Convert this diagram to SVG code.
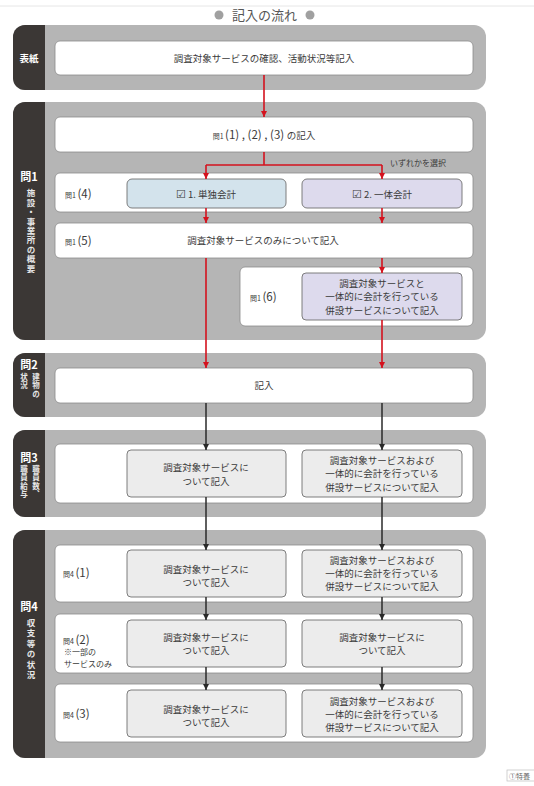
<svg xmlns="http://www.w3.org/2000/svg" width="534" height="786" viewBox="0 0 534 786">
<style>
text{font-family:"Noto Sans CJK JP","Noto Sans",sans-serif;fill:#3a3a3a;}
.band{fill:#b5b5b5;}
.side{fill:#3b3735;}
.wb{fill:#ffffff;stroke:#8c8c8c;stroke-width:0.8;}
.gb{fill:#ececec;stroke:#707070;stroke-width:0.9;}
.blue{fill:#d3e3ec;stroke:#707070;stroke-width:0.9;}
.pur{fill:#dddaed;stroke:#707070;stroke-width:0.9;}
.t{font-size:9.5px;text-anchor:middle;}
.sl{font-size:11px;font-weight:bold;fill:#ffffff;text-anchor:middle;}
.sv{font-size:8.5px;font-weight:bold;fill:#e8e8e8;writing-mode:vertical-rl;text-orientation:upright;}
.sv2{font-size:7.5px;font-weight:bold;fill:#e8e8e8;writing-mode:vertical-rl;text-orientation:upright;letter-spacing:1.1px;}
.sm{font-size:7px;}
.lg{font-size:11.5px;}
.red{stroke:#d4121e;stroke-width:1.6;fill:none;}
.blk{stroke:#2a2a2a;stroke-width:1.5;fill:none;}
</style>
<defs>
<marker id="ar" markerWidth="7" markerHeight="6" refX="6" refY="3" orient="auto" markerUnits="userSpaceOnUse"><path d="M0,0 L6,3 L0,6 Z" fill="#d4121e"/></marker>
<marker id="ab" markerWidth="7" markerHeight="6" refX="6" refY="3" orient="auto" markerUnits="userSpaceOnUse"><path d="M0,0 L6,3 L0,6 Z" fill="#2a2a2a"/></marker>
</defs>
<rect width="534" height="786" fill="#ffffff"/>
<line x1="0" y1="6" x2="534" y2="6" stroke="#e6e6e6" stroke-width="1"/>
<g id="title">
<circle cx="219" cy="15" r="4.5" fill="#a0a0a0"/>
<circle cx="310" cy="15" r="4.5" fill="#a0a0a0"/>
<text x="264.5" y="19.5" style="font-size:13px;text-anchor:middle;fill:#555">記入の流れ</text>
</g>

<g id="band-hyoshi">
<rect class="band" x="13" y="25" width="473" height="65" rx="12"/>
<path class="side" d="M45,25 H25 A12,12 0 0 0 13,37 V78 A12,12 0 0 0 25,90 H45 Z"/>
<text class="sl" x="29" y="61.5" style="font-size:9.5px">表紙</text>
</g>
<g id="band-q1">
<rect class="band" x="13" y="102" width="473" height="238" rx="12"/>
<path class="side" d="M45,102 H25 A12,12 0 0 0 13,114 V328 A12,12 0 0 0 25,340 H45 Z"/>
<text class="sl" x="29" y="181">問1</text>
<text class="sv" x="31" y="189" style="letter-spacing:0.9px">施設・事業所の概要</text>
</g>
<g id="band-q2">
<rect class="band" x="13" y="353" width="473" height="64" rx="12"/>
<path class="side" d="M45,353 H25 A12,12 0 0 0 13,365 V405 A12,12 0 0 0 25,417 H45 Z"/>
<text class="sl" x="29" y="369">問2</text>
<text class="sv2" x="36" y="373">建物の</text>
<text class="sv2" x="24" y="373">状況</text>
</g>
<g id="band-q3">
<rect class="band" x="13" y="430" width="473" height="87" rx="12"/>
<path class="side" d="M45,430 H25 A12,12 0 0 0 13,442 V505 A12,12 0 0 0 25,517 H45 Z"/>
<text class="sl" x="29" y="462">問3</text>
<text class="sv2" x="36" y="465">職員数、</text>
<text class="sv2" x="24" y="465">職員給与</text>
</g>
<g id="band-q4">
<rect class="band" x="13" y="530" width="473" height="228" rx="12"/>
<path class="side" d="M45,530 H25 A12,12 0 0 0 13,542 V746 A12,12 0 0 0 25,758 H45 Z"/>
<text class="sl" x="29" y="611">問4</text>
<text class="sv" x="31" y="618.5" style="letter-spacing:1.9px">収支等の状況</text>
</g>

<g id="node-cover">
<rect class="wb" x="55" y="41" width="418" height="34" rx="5"/>
<text class="t" x="264" y="61.5">調査対象サービスの確認、活動状況等記入</text>
</g>
<g id="node-q1-123">
<rect class="wb" x="55" y="117" width="418" height="35" rx="5"/>
<text x="264" y="139" style="text-anchor:middle"><tspan class="sm">問1 </tspan><tspan class="lg">(1) , (2) , (3) </tspan><tspan style="font-size:9.5px">の記入</tspan></text>
</g>
<text x="446" y="166" style="font-size:8px;text-anchor:end">いずれかを選択</text>
<g id="node-q1-4">
<rect class="wb" x="55" y="173" width="418" height="39" rx="5"/>
<text x="65" y="197.5"><tspan class="sm">問1 </tspan><tspan class="lg">(4)</tspan></text>
</g>
<g id="node-single">
<rect class="blue" x="127" y="179" width="159" height="29" rx="5"/>
<text class="t" x="206" y="197.5"><tspan style="font-size:11px">☑</tspan> 1. 単独会計</text>
</g>
<g id="node-combined">
<rect class="pur" x="302" y="179" width="160" height="29" rx="5"/>
<text class="t" x="382" y="197.5"><tspan style="font-size:11px">☑</tspan> 2. 一体会計</text>
</g>
<g id="node-q1-5">
<rect class="wb" x="55" y="223" width="418" height="35" rx="5"/>
<text x="65" y="244.5"><tspan class="sm">問1 </tspan><tspan class="lg">(5)</tspan></text>
<text class="t" x="263" y="244">調査対象サービスのみについて記入</text>
</g>
<g id="node-q1-6">
<rect class="wb" x="240" y="267" width="233" height="59" rx="5"/>
<text x="250" y="301"><tspan class="sm">問1 </tspan><tspan class="lg">(6)</tspan></text>
<rect class="pur" x="302" y="273" width="160" height="47" rx="4"/>
<text class="t" x="382" y="286.5">調査対象サービスと</text>
<text class="t" x="382" y="300">一体的に会計を行っている</text>
<text class="t" x="382" y="313.5">併設サービスについて記入</text>
</g>
<g id="node-q2">
<rect class="wb" x="55" y="368" width="418" height="35" rx="5"/>
<text class="t" x="264" y="389">記入</text>
</g>
<g id="node-q3">
<rect class="wb" x="55" y="444" width="418" height="59" rx="5"/>
<rect class="gb" x="127" y="450" width="159" height="47" rx="4"/>
<text class="t" x="206" y="471">調査対象サービスに</text>
<text class="t" x="206" y="485">ついて記入</text>
<rect class="gb" x="302" y="450" width="160" height="47" rx="4"/>
<text class="t" x="382" y="463.5">調査対象サービスおよび</text>
<text class="t" x="382" y="477">一体的に会計を行っている</text>
<text class="t" x="382" y="490.5">併設サービスについて記入</text>
</g>
<g id="node-q4-1">
<rect class="wb" x="55" y="545" width="418" height="57" rx="5"/>
<text x="63" y="577"><tspan class="sm">問4 </tspan><tspan class="lg">(1)</tspan></text>
<rect class="gb" x="127" y="550" width="159" height="47" rx="4"/>
<text class="t" x="206" y="573">調査対象サービスに</text>
<text class="t" x="206" y="586">ついて記入</text>
<rect class="gb" x="302" y="550" width="160" height="47" rx="4"/>
<text class="t" x="382" y="564">調査対象サービスおよび</text>
<text class="t" x="382" y="577">一体的に会計を行っている</text>
<text class="t" x="382" y="590">併設サービスについて記入</text>
</g>
<g id="node-q4-2">
<rect class="wb" x="55" y="614" width="418" height="59" rx="5"/>
<text x="63" y="643.5"><tspan class="sm">問4 </tspan><tspan class="lg">(2)</tspan></text>
<text x="64" y="655" style="font-size:8px">※一部の</text>
<text x="64" y="667" style="font-size:8px">サービスのみ</text>
<rect class="gb" x="127" y="620" width="159" height="47" rx="4"/>
<text class="t" x="206" y="640.5">調査対象サービスに</text>
<text class="t" x="206" y="653.5">ついて記入</text>
<rect class="gb" x="302" y="620" width="160" height="47" rx="4"/>
<text class="t" x="382" y="640.5">調査対象サービスに</text>
<text class="t" x="382" y="653.5">ついて記入</text>
</g>
<g id="node-q4-3">
<rect class="wb" x="55" y="684" width="418" height="58" rx="5"/>
<text x="63" y="718"><tspan class="sm">問4 </tspan><tspan class="lg">(3)</tspan></text>
<rect class="gb" x="127" y="690" width="159" height="47" rx="4"/>
<text class="t" x="206" y="713">調査対象サービスに</text>
<text class="t" x="206" y="726">ついて記入</text>
<rect class="gb" x="302" y="690" width="160" height="47" rx="4"/>
<text class="t" x="382" y="704.5">調査対象サービスおよび</text>
<text class="t" x="382" y="717.5">一体的に会計を行っている</text>
<text class="t" x="382" y="730.5">併設サービスについて記入</text>
</g>

<g id="connectors">
<path class="red" d="M264,75 V117" marker-end="url(#ar)"/>
<path class="red" d="M264,152 V165 M206,165 H382"/>
<path class="red" d="M206,165 V179" marker-end="url(#ar)"/>
<path class="red" d="M382,165 V179" marker-end="url(#ar)"/>
<path class="red" d="M206,208 V223" marker-end="url(#ar)"/>
<path class="red" d="M382,208 V223" marker-end="url(#ar)"/>
<path class="red" d="M382,258 V273" marker-end="url(#ar)"/>
<path class="red" d="M206,258 V368" marker-end="url(#ar)"/>
<path class="red" d="M382,320 V368" marker-end="url(#ar)"/>
<path class="blk" d="M206,403 V450" marker-end="url(#ab)"/>
<path class="blk" d="M382,403 V450" marker-end="url(#ab)"/>
<path class="blk" d="M206,497 V550" marker-end="url(#ab)"/>
<path class="blk" d="M382,497 V550" marker-end="url(#ab)"/>
<path class="blk" d="M206,597 V620" marker-end="url(#ab)"/>
<path class="blk" d="M382,597 V620" marker-end="url(#ab)"/>
<path class="blk" d="M206,667 V690" marker-end="url(#ab)"/>
<path class="blk" d="M382,667 V690" marker-end="url(#ab)"/>
</g>

<g id="footer-tag">
<rect x="507" y="770" width="30" height="11" fill="#ffffff" stroke="#bdbdbd" stroke-width="0.7"/>
<text x="509" y="778.5" style="font-size:7px;fill:#666">①特養</text>
</g>
</svg>
